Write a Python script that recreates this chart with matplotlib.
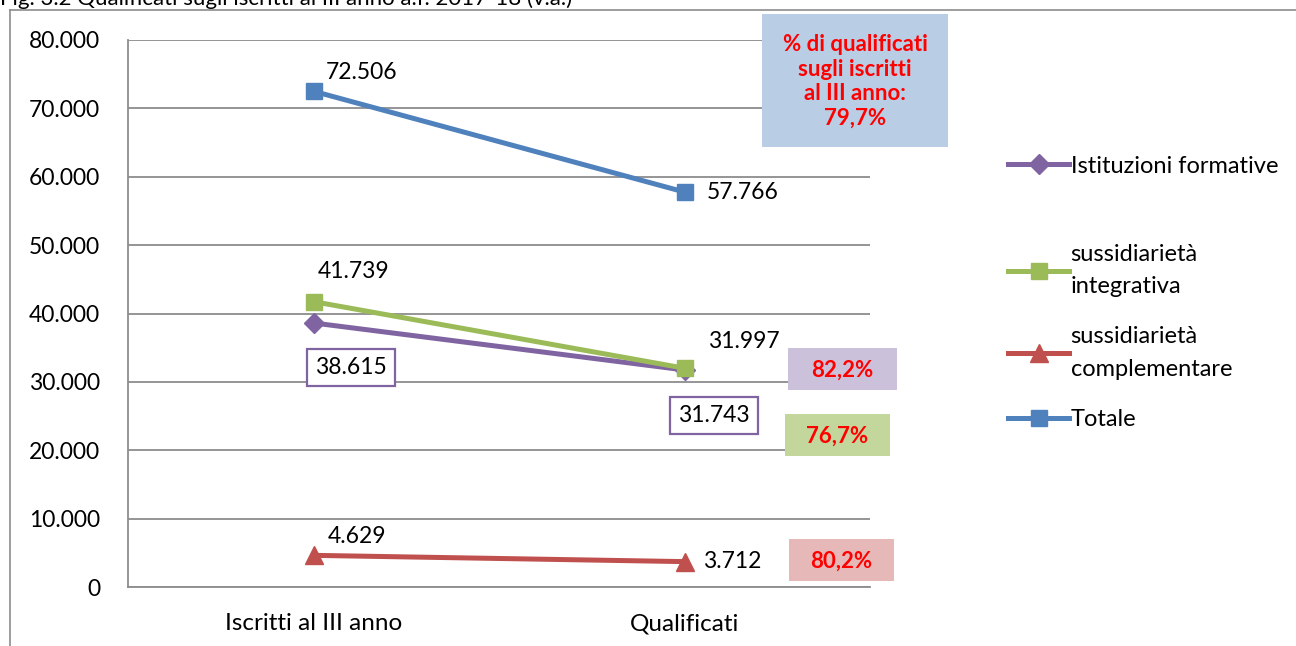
import matplotlib.pyplot as plt
from matplotlib.lines import Line2D
from matplotlib.patches import Rectangle

plt.rcParams['font.family'] = ['Lato', 'DejaVu Sans']

categorie = ['Iscritti al III anno', 'Qualificati']
istituzioni = [38615, 31743]
integrativa = [41739, 31997]
complementare = [4629, 3712]
totale = [72506, 57766]
serie = ['Istituzioni formative', 'sussidiarietà\nintegrativa',
         'sussidiarietà\ncomplementare', 'Totale']
perc = ['82,2%', '76,7%', '80,2%']
perc_tot = '% di qualificati\nsugli iscritti\nal III anno:\n79,7%'

def fmt(v):
    return f'{v:,}'.replace(',', '.')

blu, viola, verde, rosso = '#4F81BD', '#8064A2', '#9BBB59', '#C0504D'

fig = plt.figure(figsize=(12.96, 6.46), dpi=100)
ax = fig.add_axes([128/1296, 59/646, 742/1296, 547/646])
x = [0, 1]

l1, = ax.plot(x, istituzioni, color=viola, lw=3.6, marker='D', ms=10, zorder=3)
l2, = ax.plot(x, integrativa, color=verde, lw=3.6, marker='s', ms=12, zorder=3)
l3, = ax.plot(x, complementare, color=rosso, lw=3.6, marker='^', ms=13, zorder=3)
l4, = ax.plot(x, totale, color=blu, lw=3.6, marker='s', ms=12, zorder=4)

ax.set_xlim(-0.5, 1.5)
ax.set_ylim(0, 80000)
ax.set_yticks(range(0, 80001, 10000))
ax.set_yticklabels(['0' if v == 0 else fmt(v) for v in range(0, 80001, 10000)], fontsize=16.5)
ax.set_xticks(x)
ax.set_xticklabels(categorie, fontsize=17.5)
ax.tick_params(length=0)
ax.tick_params(axis='y', pad=20)
ax.tick_params(axis='x', pad=19)
ax.grid(axis='y', color='#8C8C8C', lw=1.3)
ax.set_axisbelow(True)
for s in ['top', 'right']:
    ax.spines[s].set_visible(False)
for s in ['left', 'bottom']:
    ax.spines[s].set_color('#8C8C8C')
    ax.spines[s].set_linewidth(1.3)

fs = 16.5
ax.annotate(fmt(totale[0]), (0, totale[0]), xytext=(9, 6), textcoords='offset points', fontsize=fs, va='bottom')
ax.annotate(fmt(totale[1]), (1, totale[1]), xytext=(16, 0), textcoords='offset points', fontsize=fs, va='center')
ax.annotate(fmt(integrativa[0]), (0, integrativa[0]), xytext=(3, 14), textcoords='offset points', fontsize=fs, va='bottom')
ax.annotate(fmt(integrativa[1]), (1, integrativa[1]), xytext=(17, 12), textcoords='offset points', fontsize=fs, va='bottom')
ax.annotate(fmt(complementare[0]), (0, complementare[0]), xytext=(10, 6), textcoords='offset points', fontsize=fs, va='bottom')
ax.annotate(fmt(complementare[1]), (1, complementare[1]), xytext=(13, 0), textcoords='offset points', fontsize=fs, va='center')
box = dict(boxstyle='square,pad=0.35', fc='white', ec=viola, lw=1.6)
ax.annotate(fmt(istituzioni[0]), (0, istituzioni[0]), xytext=(27, -32), textcoords='offset points', fontsize=fs, ha='center', va='center', bbox=box)
ax.annotate(fmt(istituzioni[1]), (1, istituzioni[1]), xytext=(21, -33), textcoords='offset points', fontsize=fs, ha='center', va='center', bbox=box)

# riquadri percentuali (pixel della figura)
W, H = 1296, 646
pstyle = dict(fontsize=16, fontweight='bold', color='#FF0000', ha='center', va='center')
for testo, (x0, y0, x1, y1), col in [(perc[0], (788, 348, 897, 390), '#CCC1DA'),
                                     (perc[1], (785, 414, 890, 456), '#C3D69B'),
                                     (perc[2], (789, 539, 894, 581), '#E6B9B8'),
                                     (perc_tot, (762, 14, 948, 147), '#B9CDE5')]:
    fig.add_artist(Rectangle((x0/W, 1 - y1/H), (x1 - x0)/W, (y1 - y0)/H, fc=col, ec='none'))
    fig.text((x0 + x1)/2/W, 1 - ((y0 + y1)/2 + 1)/H, testo, linespacing=1.2, **pstyle)

leg_kw = dict(loc='center left', frameon=False, fontsize=17, handlelength=2.6,
              handletextpad=0.05, borderaxespad=0, borderpad=0)
leg1 = fig.legend([l1], serie[:1], bbox_to_anchor=(1008/W, 1 - 166/H), **leg_kw)
leg2 = fig.legend([l2, l3, l4], serie[1:], bbox_to_anchor=(1008/W, 1 - 337/H),
                  labelspacing=1.25, **leg_kw)
for t in leg2.get_texts():
    t.set_linespacing(1.65)

fig.add_artist(Line2D([10/W, 1], [1 - 10/H] * 2, color='#8C8C8C', lw=1.2))
fig.add_artist(Line2D([10/W] * 2, [0, 1 - 10/H], color='#8C8C8C', lw=1.2))
fig.text(0, 1 - 5/H, 'Fig. 3.2 Qualificati sugli iscritti al III anno a.f. 2017-18 (v.a.)',
         fontsize=16, va='baseline')

fig.savefig('out.png', dpi=100)
